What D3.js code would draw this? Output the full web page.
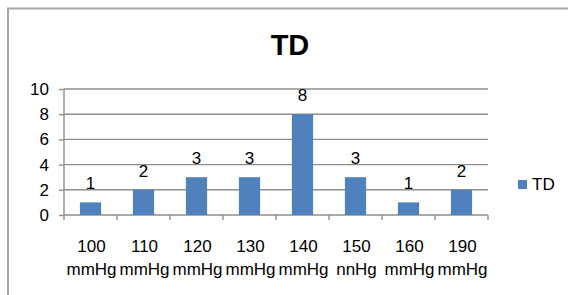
<!DOCTYPE html>
<html>
<head>
<meta charset="utf-8">
<script src="https://cdn.jsdelivr.net/npm/d3@7"></script>
<style>
  html, body { margin: 0; padding: 0; background: #fff; }
  svg { display: block; }
  text { font-family: "Liberation Sans", Arial, sans-serif; fill: #000; }
</style>
</head>
<body>
<svg id="chart" width="568" height="295"></svg>
<script>
const categories = ["100", "110", "120", "130", "140", "150", "160", "190"];
const units = ["mmHg", "mmHg", "mmHg", "mmHg", "mmHg", "nnHg", "mmHg", "mmHg"];
const values = [1, 2, 3, 3, 8, 3, 1, 2];
const yTicks = [0, 2, 4, 6, 8, 10];
const seriesName = "TD";
const title = "TD";

(function () {
const svg = d3.select("#chart");
const pLeft = 64, pRight = 488, pTop = 89, pBottom = 215;

// chart frame
svg.append("rect")
  .attr("x", 8).attr("y", 8.5)
  .attr("width", 575).attr("height", 300)
  .attr("fill", "#fff")
  .attr("stroke", "#a6a6a6")
  .attr("stroke-width", 2);

const x = d3.scaleBand().domain(categories).range([pLeft, pRight]).padding(0);
const y = d3.scaleLinear().domain([0, 10]).range([pBottom, pTop]);

// gridlines
svg.append("g").selectAll("line")
  .data(yTicks.filter(t => t > 0))
  .join("line")
  .attr("x1", pLeft).attr("x2", pRight)
  .attr("y1", d => y(d)).attr("y2", d => y(d))
  .attr("stroke", "#8e8e8e").attr("stroke-width", 1.4);

// y axis
const yAxis = d3.axisLeft(y).tickValues(yTicks).tickSize(5).tickPadding(10).tickFormat(d3.format("d"));
const gy = svg.append("g").attr("transform", `translate(${pLeft},0)`).call(yAxis);
gy.select(".domain").attr("stroke", "#8e8e8e").attr("stroke-width", 1.4).attr("d", `M0,${pTop}V${pBottom}`);
gy.selectAll(".tick line").attr("stroke", "#8e8e8e").attr("stroke-width", 1.4);
gy.selectAll(".tick text").attr("font-size", 17).attr("font-family", "Liberation Sans, Arial, sans-serif").attr("fill", "#000");

// x axis line and ticks at category boundaries
svg.append("line")
  .attr("x1", pLeft).attr("x2", pRight)
  .attr("y1", pBottom).attr("y2", pBottom)
  .attr("stroke", "#8e8e8e").attr("stroke-width", 1.4);
const boundaries = categories.map(c => x(c)).concat([x(categories[categories.length - 1]) + x.bandwidth()]);
svg.append("g").selectAll("line")
  .data(boundaries)
  .join("line")
  .attr("x1", d => d).attr("x2", d => d)
  .attr("y1", pBottom).attr("y2", pBottom + 5)
  .attr("stroke", "#8e8e8e").attr("stroke-width", 1.4);

// bars
const bw = x.bandwidth() * 0.4;
svg.append("g").selectAll("rect")
  .data(values)
  .join("rect")
  .attr("x", (d, i) => x(categories[i]) + x.bandwidth() / 2 - bw / 2)
  .attr("y", d => y(d))
  .attr("width", bw)
  .attr("height", d => y(0) - y(d))
  .attr("fill", "#4f81bd");

// data labels
svg.append("g").selectAll("text")
  .data(values)
  .join("text")
  .attr("x", (d, i) => x(categories[i]) + x.bandwidth() / 2)
  .attr("y", d => y(d) - 13)
  .attr("text-anchor", "middle")
  .attr("font-size", 17)
  .text(d => d);

// x labels (two lines)
const xl = svg.append("g").selectAll("text")
  .data(categories)
  .join("text")
  .attr("y", 252)
  .attr("text-anchor", "middle")
  .attr("font-size", 17);
xl.append("tspan").attr("x", d => x(d) + x.bandwidth() / 2 + 1).attr("dy", 0).text(d => d);
xl.append("tspan").attr("x", d => x(d) + x.bandwidth() / 2 + 1).attr("dy", 23).text((d, i) => units[i]);

// title
svg.append("text")
  .attr("x", 290).attr("y", 55)
  .attr("text-anchor", "middle")
  .attr("font-size", 29)
  .attr("font-weight", "bold")
  .text(title);

// legend
svg.append("rect")
  .attr("x", 518).attr("y", 180).attr("width", 9).attr("height", 9)
  .attr("fill", "#4f81bd");
svg.append("text")
  .attr("x", 532).attr("y", 190)
  .attr("font-size", 17)
  .text(seriesName);
})();
</script>
</body>
</html>
